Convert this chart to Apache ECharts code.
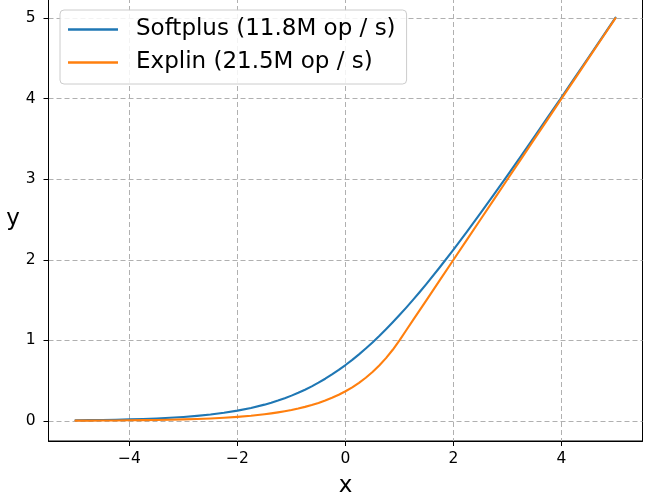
<!DOCTYPE html>
<html>
<head>
<meta charset="utf-8">
<script src="https://cdn.jsdelivr.net/npm/echarts@6/dist/echarts.min.js"></script>
<style>
html,body{margin:0;padding:0;background:#fff;}
#chart{width:656px;height:498px;}
</style>
</head>
<body>
<div id="chart"></div>
<script>
const xValues = [-5,-4.75,-4.5,-4.25,-4,-3.75,-3.5,-3.25,-3,-2.75,-2.5,-2.25,-2,-1.75,-1.5,-1.375,-1.25,-1.125,-1,-0.875,-0.75,-0.625,-0.5,-0.375,-0.25,-0.125,0,0.125,0.25,0.375,0.5,0.625,0.75,0.875,1,1.125,1.25,1.375,1.5,1.75,2,2.25,2.5,2.75,3,3.25,3.5,3.75,4,4.25,4.5,4.75,5];
const softplusValues = [0.0067,0.0086,0.0110,0.0141,0.0181,0.0232,0.0298,0.0380,0.0486,0.0620,0.0789,0.1000,0.1269,0.1602,0.2014,0.2254,0.2519,0.2812,0.3133,0.3485,0.3869,0.4287,0.4741,0.5232,0.5759,0.6325,0.6931,0.7574,0.8259,0.8981,0.9741,1.0535,1.1369,1.2235,1.3133,1.4061,1.5019,1.6003,1.7014,1.9102,2.1269,2.3500,2.5789,2.8120,3.0486,3.2880,3.5298,3.7732,4.0181,4.2641,4.5110,4.7586,5.0067];
const explinValues = [0.0025,0.0032,0.0041,0.0052,0.0067,0.0087,0.0111,0.0143,0.0183,0.0235,0.0302,0.0388,0.0498,0.0639,0.0821,0.0930,0.1054,0.1194,0.1353,0.1534,0.1738,0.1969,0.2231,0.2528,0.2865,0.3247,0.3679,0.4169,0.4724,0.5353,0.6065,0.6873,0.7788,0.8825,1.0,1.125,1.25,1.375,1.5,1.75,2.0,2.25,2.5,2.75,3.0,3.25,3.5,3.75,4.0,4.25,4.5,4.75,5.0];
const seriesNames = ['Softplus (11.8M op / s)', 'Explin (21.5M op / s)'];
const xTicks = [-4,-2,0,2,4];
const yTicks = [0,1,2,3,4,5];

const FONT = 'DejaVu Sans';
const pair = (ys) => xValues.map((x,i)=>[x, ys[i]]);
const chart = echarts.init(document.getElementById('chart'), null, {renderer:'canvas'});
chart.setOption({
  animation:false,
  backgroundColor:'#fff',
  grid:{left:48.5,right:13.5,top:-2,bottom:57,outerBoundsMode:'none',containLabel:false,show:true,borderColor:'#000',borderWidth:1,backgroundColor:'transparent'},
  legend:{
    orient:'vertical', left:60, top:10,
    backgroundColor:'rgba(255,255,255,0.85)', borderColor:'#cccccc', borderWidth:1, borderRadius:4,
    padding:[8,11,10,8], itemGap:10, itemWidth:50, itemHeight:2.5, icon:'rect',
    textStyle:{fontFamily:FONT,fontSize:23,color:'#000',lineHeight:23,padding:[0,0,0,13]},
    data:seriesNames
  },
  xAxis:{
    type:'value', min:-5.5, max:5.5,
    name:'x', nameLocation:'middle', nameGap:45,
    nameTextStyle:{fontFamily:FONT,fontSize:23,color:'#000',verticalAlign:'middle'},
    axisLine:{show:true,onZero:false,lineStyle:{color:'#000',width:1}},
    axisTick:{show:true,length:5,inside:false,lineStyle:{color:'#000',width:1},customValues:xTicks},
    axisLabel:{fontFamily:FONT,fontSize:15.5,color:'#000',margin:10,customValues:xTicks,
      formatter:v=>(v<0?'\u2212'+Math.abs(v):String(v))},
    splitLine:{show:true,lineStyle:{color:'#b0b0b0',width:1,type:[5,3]}}
  },
  yAxis:{
    type:'value', min:-0.25, max:5.25,
    name:'y', nameLocation:'middle', nameGap:28.5, nameRotate:0,
    nameTextStyle:{fontFamily:FONT,fontSize:23,color:'#000',verticalAlign:'middle',align:'center',padding:[0,0,20,0]},
    axisLine:{show:true,onZero:false,lineStyle:{color:'#000',width:1}},
    axisTick:{show:true,length:5,inside:false,lineStyle:{color:'#000',width:1},customValues:yTicks},
    axisLabel:{fontFamily:FONT,fontSize:15.5,color:'#000',margin:13,customValues:yTicks},
    splitLine:{show:true,lineStyle:{color:'#b0b0b0',width:1,type:[5,3]}}
  },
  series:[
    {name:seriesNames[0],type:'line',data:pair(softplusValues),showSymbol:false,symbol:'none',lineStyle:{color:'#1f77b4',width:2.1,join:'round',cap:'round'},itemStyle:{color:'#1f77b4'},z:2},
    {name:seriesNames[1],type:'line',data:pair(explinValues),showSymbol:false,symbol:'none',lineStyle:{color:'#ff7f0e',width:2.1,join:'round',cap:'round'},itemStyle:{color:'#ff7f0e'},z:3}
  ]
});
</script>
</body>
</html>
